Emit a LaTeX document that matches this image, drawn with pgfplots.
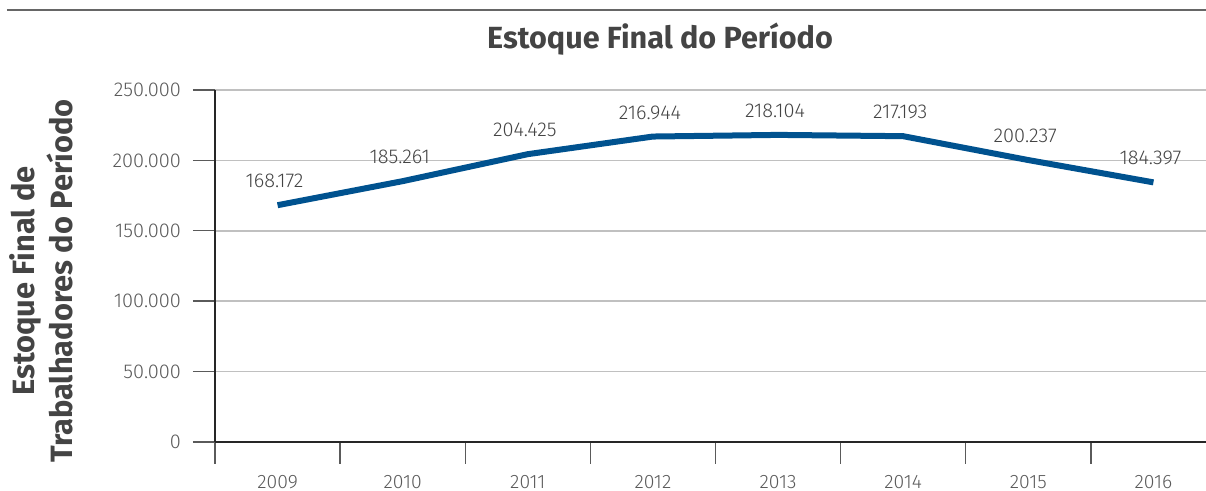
\documentclass[border=0pt]{standalone}
\usepackage{fontspec}
\setmainfont{Fira Sans}
\newfontfamily\lightfont{Fira Sans Light}
\usepackage{pgfplots}
\usepackage{pgfplotstable}
\pgfplotsset{compat=1.18}
\definecolor{lineblue}{HTML}{00528F}
\definecolor{txt}{HTML}{444444}
\definecolor{tick}{HTML}{5A5A5A}
\definecolor{grid}{HTML}{C0C0C0}
\pgfplotstableread{
x y lab
0 168172 168.172
1 185261 185.261
2 204425 204.425
3 216944 216.944
4 218104 218.104
5 217193 217.193
6 200237 200.237
7 184397 184.397
}\data
\begin{document}
\begin{tikzpicture}
\begin{axis}[
  at={(0,0)}, anchor=south west,
  scale only axis, width=495.5pt, height=176pt,
  xmin=-0.5, xmax=7.42, ymin=0, ymax=250000,
  axis x line*=bottom, axis y line*=left,
  axis line style={draw=black!85, line width=0.7pt},
  tick align=outside, major tick length=11pt,
  tick style={draw=tick, line width=0.7pt},
  xtick={-0.5,0.5,...,6.5}, xticklabels={},
  extra x ticks={0,1,2,3,4,5,6,7},
  extra x tick labels={2009,2010,2011,2012,2013,2014,2015,2016},
  extra x tick style={tick style={draw=none}, xticklabel style={yshift=-2pt, font=\lightfont\fontsize{9.7}{11}\selectfont}},
  ytick={0,50000,100000,150000,200000,250000},
  yticklabels={0,50.000,100.000,150.000,200.000,250.000},
  scaled y ticks=false,
  ymajorgrids, grid style={draw=grid, line width=0.75pt},
  tick label style={font=\lightfont\fontsize{10}{11}\selectfont, text=tick},
  yticklabel style={xshift=-2.5pt},
  clip=false,
  nodes near coords={\pgfplotspointmeta},
  point meta=explicit symbolic,
  every node near coord/.style={anchor=center, yshift=12pt, xshift=-1.5pt,
    font=\lightfont\fontsize{10}{11}\selectfont, text=txt},
]
\addplot[lineblue, line width=3pt, mark=none] table[x=x, y=y, meta=lab] {\data};
\end{axis}
\draw[draw=black!60, line width=0.75pt] (-104pt,216pt) -- (495.5pt,216pt);
\node[anchor=base, font=\bfseries\fontsize{15.3}{17}\selectfont, text=txt] at (222.5pt,196.5pt) {Estoque Final do Período};
\node[anchor=base, rotate=90, font=\bfseries\fontsize{15.4}{17}\selectfont, text=txt] at (-90pt,80.5pt) {Estoque Final de};
\node[anchor=base, rotate=90, font=\bfseries\fontsize{15.4}{17}\selectfont, text=txt] at (-71pt,80.5pt) {Trabalhadores do Período};
\pgfresetboundingbox
\path (-107.5pt,-24.5pt) rectangle (495.5pt,221pt);
\end{tikzpicture}
\end{document}
